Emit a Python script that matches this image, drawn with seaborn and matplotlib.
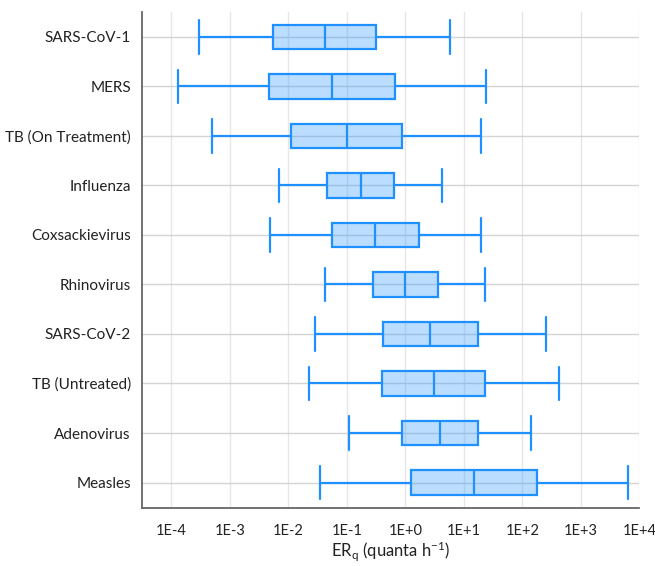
import numpy as np
import pandas as pd
import seaborn as sns
import matplotlib.pyplot as plt
from matplotlib.ticker import FixedLocator, FixedFormatter

# Emission rate summaries, log10(quanta/h) : whisker low, Q1, median, Q3, whisker high
pathogens = ['SARS-CoV-1', 'MERS', 'TB (On Treatment)', 'Influenza', 'Coxsackievirus',
             'Rhinovirus', 'SARS-CoV-2', 'TB (Untreated)', 'Adenovirus', 'Measles']
lo_whisk = [-3.52, -3.88, -3.31, -2.15, -2.32, -1.37, -1.54, -1.64, -0.97, -1.45]
q1 = [-2.26, -2.33, -1.95, -1.34, -1.25, -0.56, -0.38, -0.39, -0.05, 0.10]
med = [-1.38, -1.25, -0.99, -0.76, -0.51, 0.00, 0.43, 0.49, 0.59, 1.18]
q3 = [-0.50, -0.17, -0.06, -0.20, 0.23, 0.56, 1.24, 1.37, 1.24, 2.26]
hi_whisk = [0.76, 1.38, 1.30, 0.62, 1.29, 1.37, 2.41, 2.63, 2.15, 3.81]

tick_exp = [-4, -3, -2, -1, 0, 1, 2, 3, 4]
tick_labels = ['1E-4', '1E-3', '1E-2', '1E-1', '1E+0', '1E+1', '1E+2', '1E+3', '1E+4']

# five points per pathogen -> quartiles land exactly on the summary values
rows = []
for i, p in enumerate(pathogens):
    for v in [lo_whisk[i], q1[i], med[i], q3[i], hi_whisk[i]]:
        rows.append([p, 10 ** v])
df = pd.DataFrame(rows, columns=['PATHOGEN', 'ER'])

sns.set_style('white')
plt.rcParams['font.family'] = ['Lato', 'DejaVu Sans']
plt.rcParams['mathtext.fontset'] = 'custom'
plt.rcParams['mathtext.rm'] = 'Lato'
plt.rcParams['mathtext.it'] = 'Lato:italic'

edge = '#1E90FF'
fig = plt.figure(figsize=(6.55, 5.66), dpi=100)
ax = fig.add_axes([0.2168, 0.102, 0.7592, 0.8774])

sns.boxplot(data=df, x='ER', y='PATHOGEN', order=pathogens, ax=ax,
            log_scale=True, whis=(0, 100), width=0.5, linewidth=1.6,
            color=edge, linecolor=edge, showfliers=False,
            boxprops=dict(facecolor=(30/255, 144/255, 1, 0.3), edgecolor=edge),
            zorder=3)

# longer whisker caps, as in the original (only the caps, not the medians)
cap_x = set(np.round(np.log10([10 ** v for v in lo_whisk + hi_whisk]), 4))
for line in ax.lines:
    y = np.asarray(line.get_ydata(), dtype=float)
    x = np.asarray(line.get_xdata(), dtype=float)
    if len(y) == 2 and x[0] == x[1] and x[0] > 0 and np.round(np.log10(x[0]), 4) in cap_x:
        c = y.mean()
        line.set_ydata([c - 0.34, c + 0.34])

ax.set_xlim(10 ** -4.5, 10 ** 4)
ax.set_ylim(len(pathogens) - 0.48, -0.51)
ax.xaxis.set_major_locator(FixedLocator([10.0 ** e for e in tick_exp]))
ax.xaxis.set_major_formatter(FixedFormatter(tick_labels))
ax.xaxis.set_minor_locator(FixedLocator([]))

ax.grid(axis='x', color='#e6e6e6', linewidth=1.0, zorder=0)
ax.grid(axis='y', color='#d4d4d4', linewidth=1.0, zorder=0)
ax.set_axisbelow(True)

for s in ['top', 'right']:
    ax.spines[s].set_visible(False)
for s in ['left', 'bottom']:
    ax.spines[s].set_color('#666666')
    ax.spines[s].set_linewidth(1.3)

ax.tick_params(axis='x', length=5, width=1.2, color='#666666', labelsize=10.5, pad=6, labelcolor='#222222')
ax.tick_params(axis='y', length=0, labelsize=11, pad=8, labelcolor='#222222')
ax.set_ylabel('')
ax.set_xlabel(r'ER$_\mathrm{q}$ (quanta h$^{\mathrm{-1}}$)', fontsize=12, color='#222222', labelpad=1)

plt.savefig('out.png', dpi=100)
